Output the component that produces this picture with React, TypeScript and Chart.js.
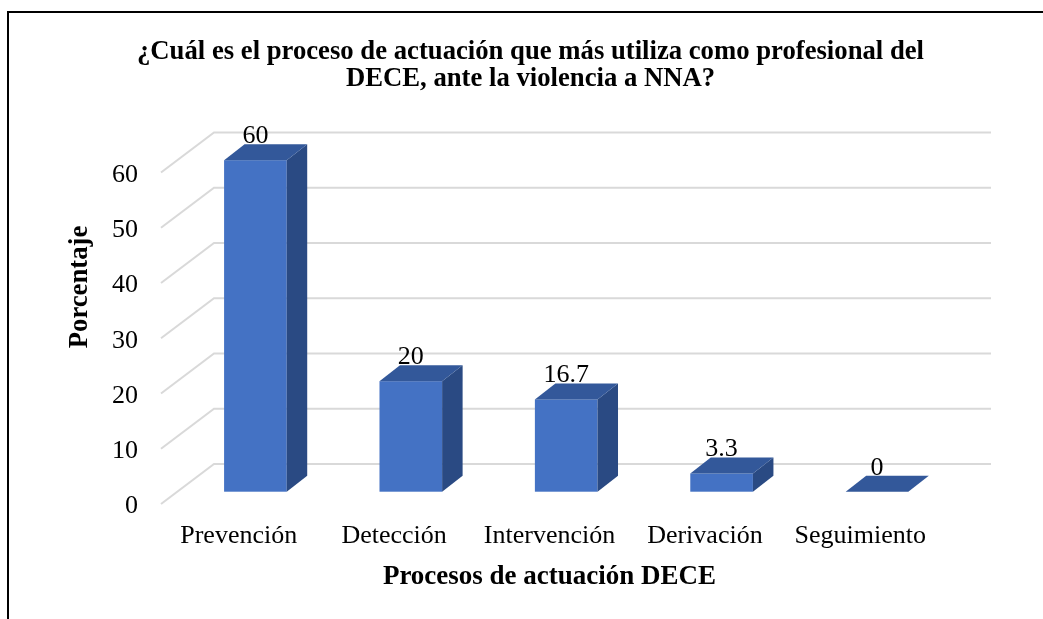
import React, { useEffect, useRef } from "react";
import { Chart, registerables } from "chart.js";

Chart.register(...registerables);

// ---- data ----
const categories = ["Prevención", "Detección", "Intervención", "Derivación", "Seguimiento"];
const percentages = [60, 20, 16.7, 3.3, 0];
const valueLabels = ["60", "20", "16.7", "3.3", "0"];
const yMin = 0;
const yMax = 60;
const yStep = 10;
const titleLines = [
  "¿Cuál es el proceso de actuación que más utiliza como profesional del",
  "DECE, ante la violencia a NNA?",
];
const xAxisTitle = "Procesos de actuación DECE";
const yAxisTitle = "Porcentaje";

// ---- styles ----
const FONT = '"Liberation Serif", "Times New Roman", serif';
const FRONT = "#4472C4";
const TOP = "#33589A";
const SIDE = "#2A4A83";
const GRID = "#d9d9d9";
const WALL_DX = 53;
const WALL_DY = -40;
const BAR_OX = 16.7;
const BAR_OY = -12.3;
const BAR_DX = 20.5;
const BAR_DY = -16;

const threeDPlugin = {
  id: "threeD",
  afterLayout(chart: any) {
    const tb = chart.titleBlock;
    if (tb) {
      tb.left = 18;
      tb.right = chart.width;
    }
  },
  beforeDraw(chart: any) {
    const { ctx, width, height } = chart;
    ctx.save();
    ctx.fillStyle = "#ffffff";
    ctx.fillRect(0, 0, width, height);
    ctx.restore();
  },
  beforeDatasetsDraw(chart: any) {
    const { ctx, chartArea, scales } = chart;
    const y = scales.y;
    ctx.save();
    ctx.strokeStyle = GRID;
    ctx.lineWidth = 2;
    y.ticks.forEach((t: any) => {
      const py = y.getPixelForValue(t.value);
      ctx.beginPath();
      ctx.moveTo(chartArea.left, py);
      ctx.lineTo(chartArea.left + WALL_DX, py + WALL_DY);
      ctx.lineTo(chartArea.right + WALL_DX, py + WALL_DY);
      ctx.stroke();
    });
    ctx.restore();
  },
  afterDatasetsDraw(chart: any) {
    const { ctx } = chart;
    const meta = chart.getDatasetMeta(0);
    ctx.save();
    meta.data.forEach((el: any, i: number) => {
      const { x, y, base, width } = el.getProps(["x", "y", "base", "width"], true);
      const l = x - width / 2 + BAR_OX;
      const r = x + width / 2 + BAR_OX;
      const t = y + BAR_OY;
      const b = base + BAR_OY;
      if (b - t > 0.5) {
        ctx.fillStyle = FRONT;
        ctx.fillRect(l, t, r - l, b - t);
        ctx.fillStyle = SIDE;
        ctx.beginPath();
        ctx.moveTo(r, t);
        ctx.lineTo(r + BAR_DX, t + BAR_DY);
        ctx.lineTo(r + BAR_DX, b + BAR_DY);
        ctx.lineTo(r, b);
        ctx.closePath();
        ctx.fill();
      }
      ctx.fillStyle = TOP;
      ctx.beginPath();
      ctx.moveTo(l, t);
      ctx.lineTo(l + BAR_DX, t + BAR_DY);
      ctx.lineTo(r + BAR_DX, t + BAR_DY);
      ctx.lineTo(r, t);
      ctx.closePath();
      ctx.fill();

      ctx.fillStyle = "#000000";
      ctx.font = `26px ${FONT}`;
      ctx.textAlign = "center";
      ctx.textBaseline = "alphabetic";
      ctx.fillText(valueLabels[i], (l + r) / 2, t + BAR_DY - 1);
    });
    ctx.restore();
  },
  afterDraw(chart: any) {
    const { ctx, width, height } = chart;
    ctx.save();
    // y axis title
    ctx.fillStyle = "#000000";
    ctx.font = `bold 26.7px ${FONT}`;
    ctx.textAlign = "center";
    ctx.textBaseline = "middle";
    ctx.translate(80, 287);
    ctx.rotate(-Math.PI / 2);
    ctx.fillText(yAxisTitle, 0, 0);
    ctx.restore();
    // frame
    ctx.save();
    ctx.fillStyle = "#000000";
    ctx.fillRect(7, 11, 2, height - 11);
    ctx.fillRect(7, 11, width - 7, 2);
    ctx.restore();
  },
};

export default function App() {
  const ref = useRef<HTMLCanvasElement | null>(null);

  useEffect(() => {
    document.body.style.margin = "0";
    const canvas = ref.current;
    if (!canvas) return;
    const chart = new Chart(canvas, {
      type: "bar",
      data: {
        labels: categories,
        datasets: [
          {
            label: "Porcentaje",
            data: percentages,
            backgroundColor: "rgba(0,0,0,0)",
            borderWidth: 0,
            categoryPercentage: 1,
            barPercentage: 0.403,
          },
        ],
      },
      options: {
        responsive: false,
        animation: false,
        devicePixelRatio: 1,
        layout: { padding: { left: 0, right: 105, top: 0, bottom: 0 } },
        plugins: {
          legend: { display: false },
          tooltip: { enabled: false },
          title: {
            display: true,
            text: titleLines,
            color: "#000000",
            font: { family: FONT, size: 26.7, weight: "bold", lineHeight: 1.03 },
            padding: { top: 38, bottom: 79.5 },
          },
        },
        scales: {
          x: {
            grid: { display: false, drawTicks: false },
            border: { display: false },
            ticks: {
              color: "#000000",
              font: { family: FONT, size: 26 },
              padding: 17,
              maxRotation: 0,
              autoSkip: false,
            },
            title: {
              display: true,
              text: xAxisTitle,
              color: "#000000",
              font: { family: FONT, size: 27, weight: "bold" },
              padding: { top: 0, bottom: 26 },
            },
            afterFit(scale: any) {
              scale.height = 115;
            },
          },
          y: {
            min: yMin,
            max: yMax,
            grid: { display: false, drawTicks: false },
            border: { display: false },
            ticks: {
              stepSize: yStep,
              color: "#000000",
              font: { family: FONT, size: 26 },
              padding: 23,
              labelOffset: 2.5,
            },
            afterFit(scale: any) {
              scale.width = 161;
            },
          },
        },
      },
      plugins: [threeDPlugin],
    });
    return () => chart.destroy();
  }, []);

  return <canvas ref={ref} width={1043} height={619} style={{ display: "block" }} />;
}
